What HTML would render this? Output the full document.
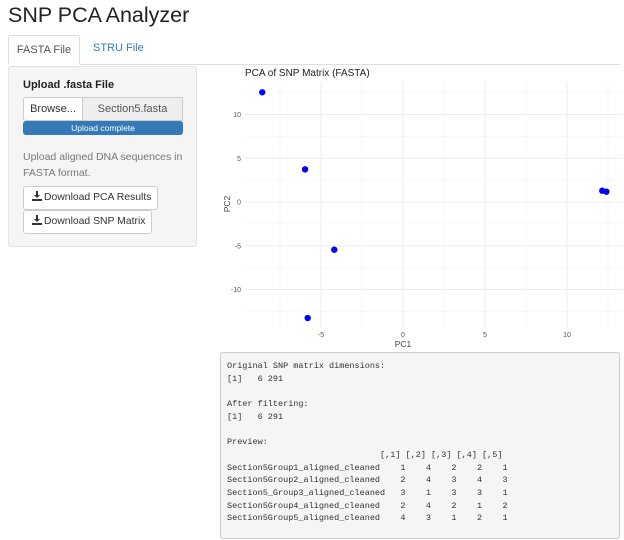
<!DOCTYPE html>
<html><head><meta charset="utf-8"><style>
body{margin:0;width:624px;height:540px;background:#fff;font-family:"Liberation Sans",sans-serif;color:#333;position:relative;overflow:hidden}
.a{position:absolute}
.btn{position:absolute;background:#fff;border:1px solid #ccc;border-radius:3px;font-size:10.4px;color:#333;box-sizing:border-box;padding:0 0 0 8px;line-height:22px;white-space:nowrap}
.btn svg{vertical-align:-1px;margin-right:2px}
pre{margin:0;font-family:"Liberation Mono",monospace;font-size:8.5px;line-height:12.7px;color:#333}
</style></head><body>
<div class="a" style="left:8px;top:3px;font-size:21.5px;color:#222">SNP PCA Analyzer</div>
<div class="a" style="left:8px;top:64px;width:612px;height:1px;background:#ddd"></div>
<div class="a" style="left:8px;top:35px;width:72px;height:30px;border:1px solid #ddd;border-bottom-color:#fff;border-radius:3px 3px 0 0;background:#fff;box-sizing:border-box;font-size:11px;text-align:center;line-height:28px;color:#555">FASTA File</div>
<div class="a" style="left:93px;top:42px;font-size:11px;color:#337ab7">STRU File</div>
<div class="a" style="left:8px;top:66px;width:189px;height:181px;background:#f5f5f5;border:1px solid #e3e3e3;border-radius:3px;box-sizing:border-box"></div>
<div class="a" style="left:23px;top:79px;font-size:11px;font-weight:bold;color:#222">Upload .fasta File</div>
<div class="a" style="left:23px;top:97px;width:60px;height:24px;background:#fff;border:1px solid #ccc;border-radius:3px 0 0 3px;box-sizing:border-box;font-size:11px;text-align:center;line-height:22px">Browse...</div>
<div class="a" style="left:82px;top:97px;width:101px;height:24px;background:#eee;border:1px solid #ccc;box-sizing:border-box;font-size:11px;text-align:center;line-height:22px;color:#555">Section5.fasta</div>
<div class="a" style="left:23px;top:121px;width:160px;height:14px;background:#337ab7;border-radius:3px;font-size:8.5px;color:#fff;text-align:center;line-height:14px">Upload complete</div>
<div class="a" style="left:23px;top:149px;width:170px;font-size:10.5px;line-height:16px;color:#777">Upload aligned DNA sequences in FASTA format.</div>
<div class="btn" style="left:23px;top:186px;width:135px;height:24px"><svg width="10" height="10" viewBox="0 0 10 10"><path d="M4 0h2v4h2L5 7 2 4h2z M0 8h10v2H0z" fill="#333"/></svg>Download PCA Results</div>
<div class="btn" style="left:23px;top:210px;width:129px;height:24px"><svg width="10" height="10" viewBox="0 0 10 10"><path d="M4 0h2v4h2L5 7 2 4h2z M0 8h10v2H0z" fill="#333"/></svg>Download SNP Matrix</div>

<svg class="a" style="left:0;top:0" width="624" height="350" id="chart">
<text x="245" y="76" font-size="10" fill="#222" font-family="Liberation Sans">PCA of SNP Matrix (FASTA)</text>
<text x="403" y="347" font-size="8.5" fill="#444" text-anchor="middle" font-family="Liberation Sans">PC1</text>
<text x="230" y="204" font-size="8.5" fill="#444" text-anchor="middle" transform="rotate(-90 230 204)" font-family="Liberation Sans">PC2</text>
<g id="grid"></g><g id="pts"></g>
</svg>

<div class="a" style="left:220px;top:352px;width:400px;height:187px;background:#f5f5f5;border:1px solid #ccc;border-radius:3px;box-sizing:border-box;padding:7px 6px">
<pre>Original SNP matrix dimensions:
[1]   6 291

After filtering:
[1]   6 291

Preview:
                              [,1] [,2] [,3] [,4] [,5]
Section5Group1_aligned_cleaned    1    4    2    2    1
Section5Group2_aligned_cleaned    2    4    3    4    3
Section5_Group3_aligned_cleaned   3    1    3    3    1
Section5Group4_aligned_cleaned    2    4    2    1    2
Section5Group5_aligned_cleaned    4    3    1    2    1</pre>
</div>
<script>
const pc1=[-8.58,-5.97,-4.19,-5.81,12.15,12.4];
const pc2=[12.54,3.73,-5.45,-13.26,1.29,1.18];
const xTicks=[-5,0,5,10];
const yTicks=[-10,-5,0,5,10];
const xMinor=[-7.5,-2.5,2.5,7.5,12.5];
const yMinor=[-12.5,-7.5,-2.5,2.5,7.5,12.5];
const NS='http://www.w3.org/2000/svg';
const L=245,R=623,T=82,B=328;
const sx=v=>403+v*16.4, sy=v=>202-v*8.75;
const grid=document.getElementById('grid'),pts=document.getElementById('pts');
function ln(x1,y1,x2,y2,w,c){const l=document.createElementNS(NS,'line');l.setAttribute('x1',x1);l.setAttribute('y1',y1);l.setAttribute('x2',x2);l.setAttribute('y2',y2);l.setAttribute('stroke',c);l.setAttribute('stroke-width',w);


grid.appendChild(l);}
function tx(x,y,s,a){const t=document.createElementNS(NS,'text');t.setAttribute('x',x);t.setAttribute('y',y);t.setAttribute('font-size','7');t.setAttribute('fill','#555');t.setAttribute('text-anchor',a);t.setAttribute('font-family','Liberation Sans');t.textContent=s;


grid.appendChild(t);}
xMinor.forEach(v=>{if(sx(v)>L&&sx(v)<R)ln(sx(v),T,sx(v),B,0.6,'#f2f2f2')});
yMinor.forEach(v=>{if(sy(v)>T&&sy(v)<B)ln(L,sy(v),R,sy(v),0.6,'#f2f2f2')});
xTicks.forEach(v=>{ln(sx(v),T,sx(v),B,1,'#ededed');tx(sx(v),337,v,'middle')});
yTicks.forEach(v=>{ln(L,sy(v),R,sy(v),1,'#ededed');tx(241,sy(v)+2.5,v,'end')});
pc1.forEach((v,i)=>{const c=document.createElementNS(NS,'circle');c.setAttribute('cx',sx(v));c.setAttribute('cy',sy(pc2[i]));c.setAttribute('r',3.2);c.setAttribute('fill','#0000ff');


pts.appendChild(c);});
</script>
</body></html>
